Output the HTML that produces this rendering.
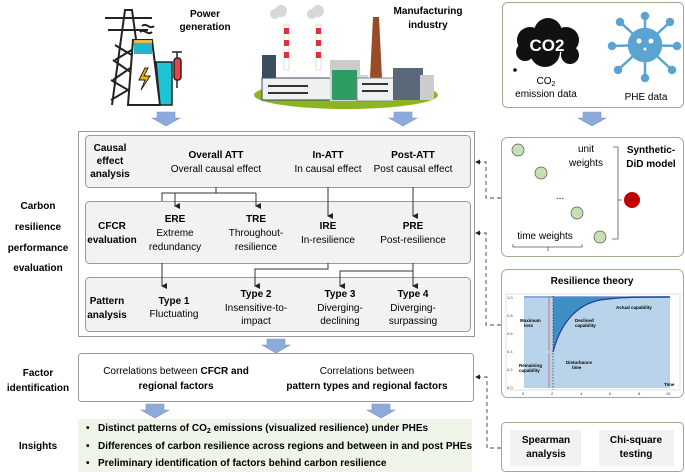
<!DOCTYPE html>
<html><head><meta charset="utf-8"><style>
body{margin:0;background:#fff}
svg{display:block;font-family:"Liberation Sans",sans-serif}
.b{font-weight:bold}
</style></head><body>
<svg width="685" height="475" viewBox="0 0 685 475" xmlns="http://www.w3.org/2000/svg">
<defs>
<g id="arr"><path d="M-9,0 H9 V6 H14 L0,14 L-14,6 H-9 Z" fill="#8eaadb" stroke="#7a96c8" stroke-width="0.6"/></g>
<marker id="ah" markerWidth="6" markerHeight="6" refX="3" refY="5" orient="auto" markerUnits="userSpaceOnUse"><path d="M0,0 L6,0 L3,6Z" fill="#222"/></marker>
</defs>

<!-- Power generation icon -->
<g stroke="#222" stroke-width="2" fill="none">
<path d="M112,105 L125,10 L132,10 L145,105"/>
<path d="M105,18 H152 M108,30 H148 M115,45 L140,60 M140,45 L115,60 M113,60 L142,80 M142,60 L113,80 M111,80 L145,100 M145,80 L111,100"/>
<path d="M140,32 c4,-4 8,4 12,0 M142,26 c4,-4 8,4 12,0"/>
</g>
<path d="M133,40 H152 L160,105 H128 Z" fill="#fff" stroke="#222" stroke-width="2"/>
<rect x="134" y="42" width="18" height="12" fill="#1fb8c7"/>
<rect x="134" y="40" width="18" height="3" fill="#e8b84a"/>
<path d="M145,68 L139,80 H145 L141,90 L150,76 H144 L148,68Z" fill="#f2b705" stroke="#222" stroke-width="1"/>
<path d="M156,62 H172 V105 H160Z" fill="#1fc3d1" stroke="#222" stroke-width="1.5"/>
<rect x="174" y="58" width="7" height="22" rx="3" fill="#e8434a" stroke="#222" stroke-width="1.5"/>
<path d="M177,52 V58 M172,52 H182 M177,80 V88" stroke="#222" stroke-width="1.5"/>
<text x="205" y="17" font-size="10" class="b" text-anchor="middle">Power</text>
<text x="205" y="30" font-size="10" class="b" text-anchor="middle">generation</text>

<!-- Factory -->
<ellipse cx="346" cy="95" rx="92" ry="14" fill="#8db522"/>
<rect x="330" y="60" width="30" height="20" fill="#ccc"/>
<g fill="#d8d8d8"><circle cx="275" cy="14" r="5"/><circle cx="281" cy="11" r="6"/><circle cx="312" cy="14" r="5"/><circle cx="318" cy="11" r="6"/></g>
<rect x="284" y="25" width="5" height="45" fill="#fff" stroke="#ddd"/>
<rect x="316" y="25" width="5" height="45" fill="#fff" stroke="#ddd"/>
<g fill="#e03040"><rect x="284" y="28" width="5" height="6"/><rect x="284" y="40" width="5" height="6"/><rect x="284" y="52" width="5" height="6"/><rect x="316" y="28" width="5" height="6"/><rect x="316" y="40" width="5" height="6"/><rect x="316" y="52" width="5" height="6"/></g>
<path d="M373,17 H379 L382,78 H370Z" fill="#9a4a26"/>
<rect x="262" y="55" width="14" height="45" fill="#3c4d5e"/>
<rect x="262" y="78" width="70" height="22" fill="#eef0f2" stroke="#3c4d5e"/>
<rect x="330" y="75" width="38" height="26" fill="#cfd6dc"/>
<rect x="332" y="70" width="25" height="30" fill="#2e9c63"/>
<rect x="357" y="78" width="38" height="23" fill="#eef0f2" stroke="#888"/>
<rect x="393" y="68" width="30" height="32" fill="#59697a"/>
<rect x="420" y="75" width="14" height="25" fill="#ccc"/>
<g fill="#333"><rect x="268" y="85" width="40" height="2"/><rect x="268" y="92" width="40" height="2"/><rect x="362" y="83" width="26" height="2"/><rect x="362" y="90" width="26" height="2"/></g>
<text x="428" y="14" font-size="10" class="b" text-anchor="middle">Manufacturing</text>
<text x="428" y="28" font-size="10" class="b" text-anchor="middle">industry</text>

<!-- Top right box -->
<rect x="502.5" y="2.5" width="181" height="105" rx="5" fill="#fff" stroke="#9bb08a"/>
<g fill="#111"><circle cx="530" cy="40" r="13"/><circle cx="548" cy="32" r="14"/><circle cx="566" cy="40" r="13"/><circle cx="545" cy="52" r="15"/><circle cx="525" cy="52" r="9"/><circle cx="570" cy="55" r="9"/><circle cx="515" cy="70" r="1.8"/></g>
<text x="547" y="51" font-size="17" class="b" fill="#fff" text-anchor="middle">CO2</text>
<g stroke="#5ba3d0" stroke-width="2.5" fill="#5ba3d0">
<path d="M645,45 L645,16 M645,45 L670,22 M645,45 L677,46 M645,45 L672,70 M645,45 L645,78 M645,45 L618,70 M645,45 L612,46 M645,45 L620,22"/>
<circle cx="645" cy="16" r="3"/><circle cx="670" cy="22" r="3"/><circle cx="677" cy="46" r="3"/><circle cx="672" cy="70" r="3"/><circle cx="645" cy="78" r="3"/><circle cx="618" cy="70" r="3"/><circle cx="612" cy="46" r="3"/><circle cx="620" cy="22" r="3"/>
<circle cx="645" cy="45" r="16"/></g>
<g fill="#fff"><circle cx="639" cy="41" r="2.5"/><circle cx="651" cy="41" r="2.5"/><circle cx="645" cy="49" r="1.5"/></g>
<text x="546" y="84" font-size="10" text-anchor="middle">CO<tspan font-size="7" dy="2">2</tspan></text>
<text x="546" y="97" font-size="10" text-anchor="middle">emission data</text>
<text x="646" y="100" font-size="10" text-anchor="middle">PHE data</text>

<use href="#arr" x="166" y="112"/><use href="#arr" x="403" y="112"/><use href="#arr" x="592" y="112"/>

<!-- Left labels -->
<g font-size="10" class="b" text-anchor="middle">
<text x="38" y="209">Carbon</text><text x="38" y="230">resilience</text><text x="38" y="251">performance</text><text x="38" y="271">evaluation</text>
<text x="38" y="376">Factor</text><text x="38" y="391">identification</text>
<text x="38" y="449">Insights</text>
</g>

<!-- main outer -->
<rect x="78.5" y="131.5" width="396" height="205" fill="#fff" stroke="#999"/>
<rect x="85.5" y="135.5" width="385" height="52" rx="4" fill="#f2f2f2" stroke="#999"/>
<rect x="85.5" y="201.5" width="385" height="62" rx="4" fill="#f2f2f2" stroke="#999"/>
<rect x="85.5" y="277.5" width="385" height="54" rx="4" fill="#f2f2f2" stroke="#999"/>

<g stroke="#333" stroke-width="1" fill="none">
<path d="M216,187 V193 H162 V201"/>
<path d="M162,193 H256"/>
<path d="M175,193 V206" marker-end="url(#ah)"/>
<path d="M256,193 V206" marker-end="url(#ah)"/>
<path d="M328,187 V216" marker-end="url(#ah)"/>
<path d="M413,187 V216" marker-end="url(#ah)"/>
<path d="M162,263 V286" marker-end="url(#ah)"/>
<path d="M328,263 V269 H255 V286" marker-end="url(#ah)"/>
<path d="M413,263 V271 H340 V286" marker-end="url(#ah)"/>
<path d="M413,271 V286" marker-end="url(#ah)"/>
</g>

<g font-size="10" text-anchor="middle">
<text x="110" y="151" class="b">Causal</text><text x="110" y="164" class="b">effect</text><text x="110" y="177" class="b">analysis</text>
<text x="216" y="158" class="b">Overall ATT</text><text x="216" y="172">Overall causal effect</text>
<text x="328" y="158" class="b">In-ATT</text><text x="328" y="172">In causal effect</text>
<text x="413" y="158" class="b">Post-ATT</text><text x="413" y="172">Post causal effect</text>

<text x="112" y="229" class="b">CFCR</text><text x="112" y="243" class="b">evaluation</text>
<text x="175" y="222" class="b">ERE</text><text x="175" y="236">Extreme</text><text x="175" y="250">redundancy</text>
<text x="256" y="222" class="b">TRE</text><text x="256" y="236">Throughout-</text><text x="256" y="250">resilience</text>
<text x="328" y="229" class="b">IRE</text><text x="328" y="243">In-resilience</text>
<text x="413" y="229" class="b">PRE</text><text x="413" y="243">Post-resilience</text>

<text x="107" y="304" class="b">Pattern</text><text x="107" y="318" class="b">analysis</text>
<text x="174" y="304" class="b">Type 1</text><text x="174" y="317">Fluctuating</text>
<text x="256" y="297" class="b">Type 2</text><text x="256" y="311">Insensitive-to-</text><text x="256" y="324">impact</text>
<text x="340" y="297" class="b">Type 3</text><text x="340" y="311">Diverging-</text><text x="340" y="324">declining</text>
<text x="413" y="297" class="b">Type 4</text><text x="413" y="311">Diverging-</text><text x="413" y="324">surpassing</text>
</g>

<use href="#arr" x="276" y="339"/>
<rect x="78.5" y="353.5" width="395" height="48" rx="3" fill="#fff" stroke="#999"/>
<g font-size="10" text-anchor="middle">
<text x="176" y="374">Correlations between <tspan class="b">CFCR and</tspan></text>
<text x="176" y="389" class="b">regional factors</text>
<text x="367" y="374">Correlations between</text>
<text x="367" y="389" class="b">pattern types and regional factors</text>
</g>
<use href="#arr" x="155" y="404"/><use href="#arr" x="381" y="404"/>
<rect x="78" y="419" width="394" height="53" fill="#eef5e8"/>
<g font-size="10" class="b">
<text x="86" y="431">•</text><text x="98" y="431">Distinct patterns of CO<tspan font-size="7" dy="2">2</tspan><tspan dy="-2"> emissions (visualized resilience) under PHEs</tspan></text>
<text x="86" y="449">•</text><text x="98" y="449">Differences of carbon resilience across regions and between in and post PHEs</text>
<text x="86" y="466">•</text><text x="98" y="466">Preliminary identification of factors behind carbon resilience</text>
</g>

<!-- Right: synthetic DiD -->
<rect x="501.5" y="137.5" width="182" height="119" rx="6" fill="#fff" stroke="#9bb08a"/>
<g fill="#c6e0b4" stroke="#555" stroke-width="0.7">
<circle cx="518" cy="150" r="6"/><circle cx="541" cy="173" r="6"/><circle cx="577" cy="213" r="6"/><circle cx="600" cy="237" r="6"/></g>
<circle cx="632" cy="200" r="8" fill="#c00000"/>
<text x="586" y="152" font-size="10" text-anchor="middle">unit</text>
<text x="586" y="166" font-size="10" text-anchor="middle">weights</text>
<text x="560" y="199" font-size="10" text-anchor="middle">...</text>
<text x="545" y="239" font-size="10" text-anchor="middle">time weights</text>
<path d="M613,147 H618 V239 H612 M618,200 H622" stroke="#555" fill="none" stroke-width="0.8"/>
<path d="M513,244 V247 H582 V244 M548,247 V251" stroke="#555" fill="none" stroke-width="0.8"/>
<text x="651" y="153" font-size="10" class="b" text-anchor="middle">Synthetic-</text>
<text x="651" y="167" font-size="10" class="b" text-anchor="middle">DiD model</text>

<!-- Resilience theory -->
<rect x="501.5" y="269.5" width="182" height="128" rx="6" fill="#fff" stroke="#9bb08a"/>
<text x="592" y="284" font-size="10" class="b" text-anchor="middle">Resilience theory</text>
<rect x="506" y="294" width="174" height="96" fill="#fff" stroke="#ccc" stroke-width="0.6"/>
<rect x="524" y="297" width="146" height="91" fill="#b8d3ea"/>
<rect x="524" y="296" width="146" height="2" fill="#8fa8dc"/>
<path d="M553,297 L553,352 C560,325 575,305 600,300 C620,297 640,297 670,297 Z" fill="#3f8fc5"/>
<path d="M553,352 C560,325 575,305 600,300 C620,297 640,297 670,297" stroke="#1f3f9f" stroke-width="1.2" fill="none"/>
<path d="M553,296 V390" stroke="#333" stroke-dasharray="1.5,1.5" stroke-width="0.7"/>
<path d="M549,297 V351 M549,353 V388" stroke="#c04040" stroke-width="0.6"/>
<g font-size="4.5" font-weight="bold">
<text x="520" y="322">Maximum</text><text x="524" y="327">loss</text>
<text x="519" y="367">Remaining</text><text x="519" y="372">capability</text>
<text x="575" y="322">Declined</text><text x="575" y="327">capability</text>
<text x="616" y="309">Actual capability</text>
<text x="566" y="364">Disturbance</text><text x="572" y="369">time</text>
<text x="664" y="386">Time</text>
</g>
<g font-size="4" fill="#444"><text x="507" y="299">1.0</text><text x="507" y="317">0.8</text><text x="507" y="335">0.6</text><text x="507" y="353">0.4</text><text x="507" y="371">0.2</text><text x="507" y="389">0.0</text>
<text x="522" y="395">0</text><text x="551" y="395">2</text><text x="580" y="395">4</text><text x="609" y="395">6</text><text x="638" y="395">8</text><text x="666" y="395">10</text></g>

<!-- Spearman -->
<rect x="501.5" y="422.5" width="182" height="49" rx="4" fill="#fff" stroke="#9bb08a"/>
<rect x="510" y="430" width="71" height="36" fill="#f2f2f2"/>
<rect x="599" y="430" width="75" height="36" fill="#f2f2f2"/>
<g font-size="10" class="b" text-anchor="middle">
<text x="546" y="443">Spearman</text><text x="546" y="457">analysis</text>
<text x="636" y="443">Chi-square</text><text x="636" y="457">testing</text>
</g>

<!-- dashed connectors -->
<g stroke="#444" stroke-width="0.9" fill="none" stroke-dasharray="4,3">
<path d="M501,198 H486 V162 H476"/>
<path d="M501,325 H486 V233 H476"/>
<path d="M501,448 H487 V377 H476"/>
</g>
<g fill="#222"><path d="M475,162 l5,-2.5 v5z"/><path d="M475,233 l5,-2.5 v5z"/><path d="M475,377 l5,-2.5 v5z"/></g>
</svg>
</body></html>
